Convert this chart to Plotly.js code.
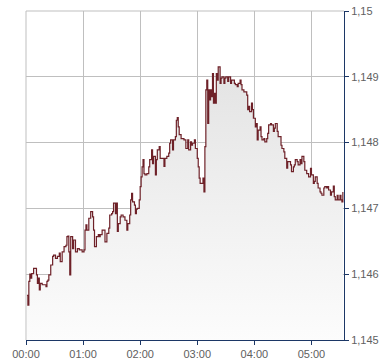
<!DOCTYPE html>
<html>
<head>
<meta charset="utf-8">
<script src="https://cdn.plot.ly/plotly-3.0.1.min.js"></script>
<style>
  html, body { margin: 0; padding: 0; background: #ffffff; }
  #chart { width: 390px; height: 364px; }
</style>
</head>
<body>
<div id="chart"></div>
<script>
// minutes since 00:00
var minutes = [1,2,3,4,5,6,8,10,11,12,13,14,15,17,19,21,22,23,24,26,28,29,31,33,35,36,38,40,42,43,44,45,46,47,49,50,52,54,56,57,59,61,62,63,64,66,68,70,71,72,74,76,77,78,80,81,83,84,85,87,88,90,91,92,94,95,96,97,99,100,102,103,104,106,107,109,110,111,112,114,115,116,117,119,120,121,122,123,124,125,127,129,130,132,133,134,136,137,138,140,141,143,144,145,146,148,150,151,152,154,155,157,158,159,160,161,163,164,166,167,168,170,171,173,174,175,177,178,180,181,182,183,185,186,187,188,189,190,191,192,193,194,195,196,197,198,199,200,201,202,204,205,206,208,209,210,212,213,215,216,217,219,220,222,223,225,226,227,229,230,232,233,234,235,237,238,239,241,242,243,244,246,247,248,250,251,253,254,255,257,258,260,261,262,264,265,267,268,269,271,272,274,275,276,278,279,281,282,283,285,286,288,289,290,292,293,295,296,297,299,300,302,303,304,306,307,309,310,311,313,314,316,317,318,320,321,323,324,325,327,328,330,331,332,333];
var prices = [1.14568,1.14553,1.14589,1.14600,1.14594,1.14601,1.14609,1.14609,1.14599,1.14586,1.14594,1.14576,1.14586,1.14584,1.14584,1.14581,1.14589,1.14591,1.14599,1.14614,1.14627,1.14629,1.14624,1.14627,1.14632,1.14619,1.14634,1.14642,1.14644,1.14657,1.14658,1.14634,1.14599,1.14657,1.14639,1.14652,1.14634,1.14639,1.14637,1.14637,1.14634,1.14637,1.14667,1.14675,1.14667,1.14685,1.14695,1.14687,1.14667,1.14642,1.14657,1.14660,1.14657,1.14660,1.14667,1.14667,1.14649,1.14649,1.14662,1.14670,1.14690,1.14692,1.14695,1.14708,1.14692,1.14708,1.14665,1.14677,1.14687,1.14690,1.14687,1.14687,1.14682,1.14667,1.14677,1.14690,1.14713,1.14723,1.14710,1.14705,1.14692,1.14699,1.14700,1.14713,1.14733,1.14748,1.14763,1.14774,1.14753,1.14751,1.14753,1.14763,1.14774,1.14789,1.14768,1.14779,1.14751,1.14774,1.14789,1.14794,1.14776,1.14776,1.14776,1.14764,1.14776,1.14779,1.14784,1.14799,1.14804,1.14789,1.14804,1.14809,1.14834,1.14838,1.14824,1.14812,1.14806,1.14806,1.14804,1.14804,1.14791,1.14804,1.14789,1.14801,1.14796,1.14799,1.14804,1.14791,1.14776,1.14763,1.14746,1.14738,1.14738,1.14746,1.14725,1.14794,1.14880,1.14895,1.14829,1.14880,1.14865,1.14880,1.14870,1.14905,1.14860,1.14875,1.14860,1.14905,1.14895,1.14915,1.14890,1.14898,1.14900,1.14890,1.14898,1.14900,1.14893,1.14900,1.14890,1.14895,1.14895,1.14890,1.14888,1.14885,1.14890,1.14895,1.14888,1.14880,1.14877,1.14877,1.14872,1.14850,1.14855,1.14847,1.14860,1.14850,1.14837,1.14824,1.14829,1.14804,1.14819,1.14824,1.14809,1.14804,1.14806,1.14801,1.14806,1.14814,1.14827,1.14829,1.14827,1.14817,1.14822,1.14829,1.14817,1.14809,1.14809,1.14796,1.14791,1.14786,1.14776,1.14761,1.14771,1.14771,1.14766,1.14756,1.14763,1.14766,1.14774,1.14771,1.14766,1.14774,1.14768,1.14779,1.14771,1.14758,1.14753,1.14753,1.14748,1.14761,1.14751,1.14738,1.14741,1.14748,1.14738,1.14731,1.14725,1.14723,1.14720,1.14731,1.14733,1.14731,1.14733,1.14728,1.14720,1.14725,1.14734,1.14718,1.14713,1.14720,1.14713,1.14720,1.14713,1.14710,1.14725];

var xTickVals = [0, 60, 120, 180, 240, 300];
var xTickText = ['00:00', '01:00', '02:00', '03:00', '04:00', '05:00'];
var yTickVals = [1.145, 1.146, 1.147, 1.148, 1.149, 1.15];
var yTickText = ['1,145', '1,146', '1,147', '1,148', '1,149', '1,15'];

var trace = {
  x: minutes,
  y: prices,
  type: 'scatter',
  mode: 'lines',
  line: { color: '#6e2128', width: 1.2, shape: 'hv' },
  fill: 'tozeroy',
  fillgradient: {
    type: 'vertical',
    start: 1.145,
    stop: 1.1492,
    colorscale: [[0, '#fcfcfc'], [1, '#e3e3e3']]
  },
  hoverinfo: 'skip'
};

var axisFont = { family: 'Liberation Sans, Arial, sans-serif', size: 11, color: '#606060' };
var gridColor = '#bfbfbf';

var layout = {
  width: 390,
  height: 364,
  margin: { l: 26, r: 46, t: 11, b: 24, pad: 0 },
  paper_bgcolor: '#ffffff',
  plot_bgcolor: '#ffffff',
  showlegend: false,
  xaxis: {
    range: [0, 334.2],
    tickmode: 'array',
    tickvals: xTickVals,
    ticktext: xTickText,
    showgrid: true,
    gridcolor: gridColor,
    gridwidth: 1,
    zeroline: false,
    showline: true,
    linecolor: '#1c3766',
    linewidth: 1,
    ticks: 'outside',
    ticklen: 4,
    tickcolor: '#1c3766',
    tickfont: axisFont,
    fixedrange: true
  },
  yaxis: {
    side: 'right',
    range: [1.145, 1.15],
    tickmode: 'array',
    tickvals: yTickVals,
    ticktext: yTickText,
    showgrid: true,
    gridcolor: gridColor,
    gridwidth: 1,
    zeroline: false,
    showline: true,
    linecolor: '#1c3766',
    linewidth: 1,
    ticks: 'outside',
    ticklen: 4,
    tickcolor: '#1c3766',
    tickfont: axisFont,
    fixedrange: true
  },
  shapes: [
    { type: 'line', xref: 'paper', yref: 'paper', x0: 0, x1: 0, y0: 0, y1: 1,
      line: { color: gridColor, width: 1 }, layer: 'below' },
    { type: 'line', xref: 'paper', yref: 'paper', x0: 0, x1: 1, y0: 1, y1: 1,
      line: { color: gridColor, width: 1 }, layer: 'below' }
  ]
};

Plotly.newPlot('chart', [trace], layout, { staticPlot: true, displayModeBar: false });
</script>
</body>
</html>
